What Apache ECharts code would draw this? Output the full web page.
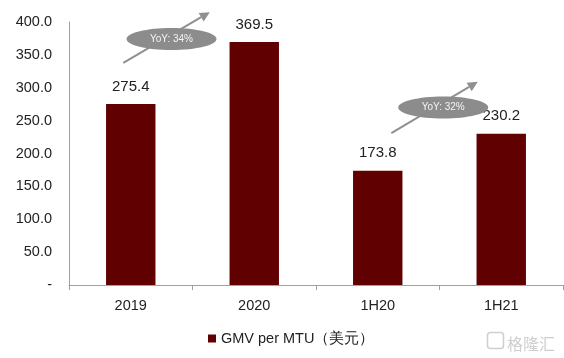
<!DOCTYPE html>
<html><head><meta charset="utf-8">
<script src="https://cdn.jsdelivr.net/npm/echarts@6/dist/echarts.min.js"></script>
<style>html,body{margin:0;padding:0;background:#fff}#c{width:564px;height:358px}</style>
</head><body><div id="c"></div>
<script>
var categories = ['2019', '2020', '1H20', '1H21'];
var gmvPerMtu = [275.4, 369.5, 173.8, 230.2];
var seriesName = 'GMV per MTU（美元）';
var yoyNotes = [
  {text: 'YoY: 34%', from: [-0.06, 338], to: [0.64, 415], center: [0.33, 374]},
  {text: 'YoY: 32%', from: [2.11, 231], to: [2.81, 309], center: [2.53, 270]}
];

var chart = echarts.init(document.getElementById('c'));
var font = 'Liberation Sans, Arial, sans-serif';
chart.setOption({
  animation: false,
  grid: {left: 69, right: 1, top: 22, bottom: 73},
  legend: {
    data: [seriesName], top: 326, left: 203,
    icon: 'rect', itemWidth: 8, itemHeight: 8, itemGap: 3,
    textStyle: {fontFamily: font, fontSize: 14.5, color: '#222'}
  },
  xAxis: {
    type: 'category', data: categories,
    axisLine: {lineStyle: {color: '#a0a0a0'}},
    axisTick: {show: true, length: 5, lineStyle: {color: '#a0a0a0'}},
    axisLabel: {fontFamily: font, fontSize: 14.5, color: '#222', margin: 13}
  },
  yAxis: {
    type: 'value', min: 0, max: 400, interval: 50,
    axisLine: {show: true, lineStyle: {color: '#a0a0a0'}},
    axisTick: {show: false},
    splitLine: {show: false},
    axisLabel: {fontFamily: font, fontSize: 14.5, color: '#222', margin: 17,
      formatter: function (v) { return v === 0 ? '-' : v.toFixed(1); }}
  },
  series: [{
    name: seriesName, type: 'bar', data: gmvPerMtu, barWidth: '40%',
    itemStyle: {color: '#600000'},
    label: {show: true, position: 'top', distance: 10, fontFamily: font, fontSize: 15, color: '#222',
      formatter: function (p) { return p.value.toFixed(1); }}
  }]
});

function px(pt) {
  var a = chart.convertToPixel({gridIndex: 0}, [0, pt[1]]);
  var b = chart.convertToPixel({gridIndex: 0}, [1, pt[1]]);
  return [a[0] + (b[0] - a[0]) * pt[0], a[1]];
}
var g = [];
yoyNotes.forEach(function (n) {
  var f = px(n.from), t = px(n.to), c = px(n.center);
  var ang = Math.atan2(t[1] - f[1], t[0] - f[0]);
  var hl = 10, hw = 5;
  var bx = t[0] - hl * Math.cos(ang), by = t[1] - hl * Math.sin(ang);
  g.push({type: 'line', shape: {x1: f[0], y1: f[1], x2: bx, y2: by}, style: {stroke: '#909090', lineWidth: 2}, z: 10});
  g.push({type: 'polygon', shape: {points: [t,
    [bx + hw * Math.sin(ang), by - hw * Math.cos(ang)],
    [bx - hw * Math.sin(ang), by + hw * Math.cos(ang)]]}, style: {fill: '#909090'}, z: 10});
  g.push({type: 'ellipse', shape: {cx: c[0], cy: c[1], rx: 45, ry: 11}, style: {fill: '#8c8c8c'}, z: 11});
  g.push({type: 'text', x: c[0], y: c[1], style: {text: n.text, fill: '#f4f4f4', fontSize: 10, fontFamily: font, align: 'center', verticalAlign: 'middle'}, z: 12});
});
g.push({type: 'rect', right: 58, bottom: 7, shape: {width: 16, height: 16, r: 3}, style: {fill: 'none', stroke: '#cfcfcf', lineWidth: 1.5}, z: 12});
g.push({type: 'text', right: 9, bottom: 6, style: {text: '格隆汇', fill: '#cfcfcf', fontSize: 16, fontFamily: 'Noto Sans CJK SC'}, z: 12});
chart.setOption({graphic: g});
</script>
</body></html>
